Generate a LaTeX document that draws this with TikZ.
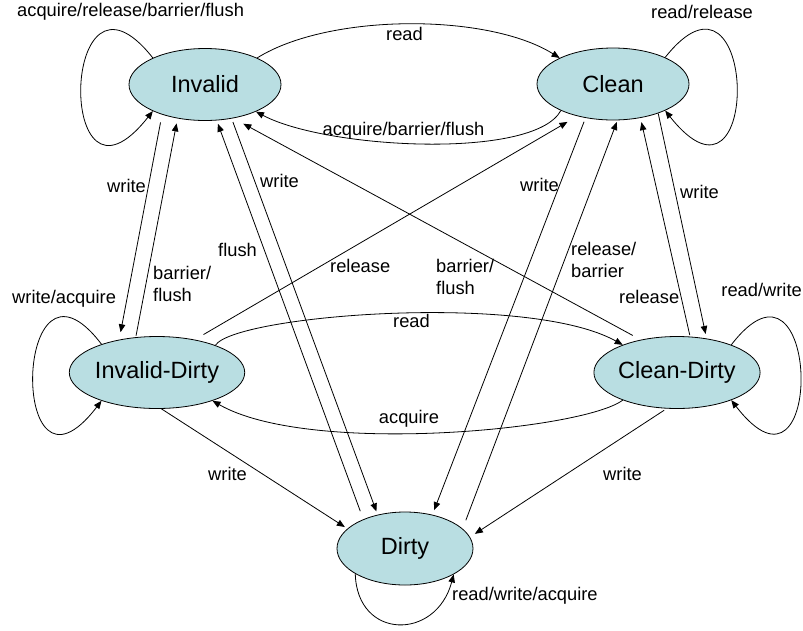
\documentclass[tikz,border=0pt]{standalone}
\usepackage{fontspec}
\setmainfont{Liberation Sans}
\usetikzlibrary{shapes.geometric,arrows.meta}
\definecolor{statefill}{RGB}{185,222,226}

\begin{document}
\begin{tikzpicture}[x=1pt, y=-1pt,
    stateellipse/.style={ellipse, draw, fill=statefill, line width=0.8pt, inner sep=0pt,
        minimum width=152pt, minimum height=72pt, font=\fontsize{23.5}{28}\selectfont},
    arr/.style={line width=0.8pt, -{Triangle[length=8pt,width=6.5pt]}},
    lbl/.style={font=\fontsize{18.3}{21.5}\selectfont, inner sep=0pt, align=left}]
    \useasboundingbox (0,0) rectangle (803,630);

    \node [stateellipse] (inv) at (205,84.5) {Invalid};
    \node [stateellipse] (cln) at (613,84) {Clean};
    \node [stateellipse] (ivd) at (157,372.5) {Invalid-Dirty};
    \node [stateellipse] (cld) at (677,372.5) {Clean-Dirty};
    \node [stateellipse, minimum width=136pt, minimum height=73pt] (dty) at (405,548.5) {Dirty};

    \draw [arr] (inv.153) .. controls (60,-60) and (55,235) .. (inv.207);
    \draw [arr] (cln.27) .. controls (758,-60) and (763,234) .. (cln.333);
    \draw [arr] (ivd.153) .. controls (13,228) and (8,523) .. (ivd.207);
    \draw [arr] (cld.27) .. controls (821,228) and (826,523) .. (cld.333);
    \draw [arr] (dty.207) .. controls (357,640) and (436,641) .. (dty.332);

    \draw [arr] (inv.27) .. controls (329,13) and (488,13) .. (cln.154);
    \draw [arr] (cln.207) .. controls (534,160) and (326,149) .. (inv.332);
    \draw [arr] (ivd.25) .. controls (235,315) and (528,292) .. (cld.153);
    \draw [arr] (cld.207) .. controls (583,430) and (309,456) .. (ivd.333);

    \draw [arr, shorten <=8pt, shorten >=7.5pt] (inv.215.4) -- (ivd.139.5);
    \draw [arr, shorten <=1.6pt, shorten >=5pt] (ivd.121.4) -- (inv.231.1);
    \draw [arr, shorten <=3.7pt, shorten >=3.5pt] (inv.308.7) -- (dty.129);
    \draw [arr, shorten <=8.6pt, shorten >=3.5pt] (dty.145.7) -- (inv.288.8);
    \draw [arr, shorten <=4pt, shorten >=4.9pt] (cln.231.9) -- (dty.51.7);
    \draw [arr, shorten <=9pt, shorten >=1.8pt] (dty.19.5) -- (cln.277);
    \draw [arr, shorten <=10pt, shorten >=11.3pt] (ivd.41.7) -- (cln.222.5);
    \draw [arr, shorten <=9pt, shorten >=11.3pt] (cld.138.1) -- (inv.310.4);
    \draw [arr, shorten >=4.6pt] (cln.327.2) -- (cld.49.8);
    \draw [arr, shorten <=1.5pt, shorten >=4.3pt] (cld.70.2) -- (cln.309.7);
    \draw [arr, shorten >=3pt] (ivd.277.5) -- (dty.161.8);
    \draw [arr, shorten <=3pt, shorten >=5.8pt] (cld.254.9) -- (dty.10.6);

    \node [lbl, anchor=base west] (linv) at (17,16) {acquire/release/barrier/flush};
    \node [lbl, anchor=base west] (lcln) at (651,18) {read/release};
    \node [lbl, anchor=base west] (livd) at (12,303) {write/acquire};
    \node [lbl, anchor=base east] (lcld) at (802,296) {read/write};
    \node [lbl, anchor=base west] (ldty) at (452,600) {read/write/acquire};

    \node [lbl, anchor=base] (lreadtop) at (404.5,40) {read};
    \node [lbl, anchor=base] (labf) at (403.5,135) {acquire/barrier/flush};
    \node [lbl, anchor=base] (lreadmid) at (411.5,327) {read};
    \node [lbl, anchor=base] (lacq) at (409,423) {acquire};

    \node [lbl, anchor=base west] (lwinvivd) at (107,192) {write};
    \node [lbl, anchor=north west] (lbfivdinv) at (153,266.5) {barrier/\\flush};
    \node [lbl, anchor=base west] (lwinvdty) at (260,187) {write};
    \node [lbl, anchor=base west] (lfldtyinv) at (218,256) {flush};
    \node [lbl, anchor=base west] (lwclndty) at (520,191) {write};
    \node [lbl, anchor=north west] (lrbdtycln) at (571,242.5) {release/\\barrier};
    \node [lbl, anchor=base west] (lrlivdcln) at (330,272) {release};
    \node [lbl, anchor=north west] (lbfcldinv) at (436,259.5) {barrier/\\flush};
    \node [lbl, anchor=base west] (lwclncld) at (680,198) {write};
    \node [lbl, anchor=base west] (lrlcldcln) at (619,303) {release};
    \node [lbl, anchor=base west] (lwivddty) at (208,480) {write};
    \node [lbl, anchor=base west] (lwclddty) at (603,480) {write};
\end{tikzpicture}
\end{document}
